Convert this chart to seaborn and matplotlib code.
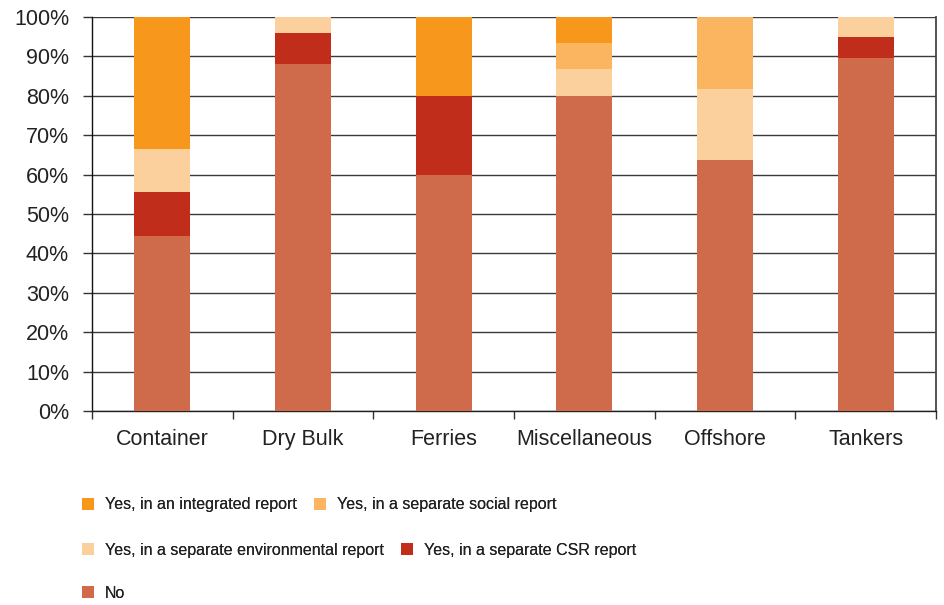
import matplotlib
matplotlib.use("Agg")
import matplotlib.pyplot as plt
from matplotlib.patches import Patch
from matplotlib.ticker import FixedLocator, PercentFormatter
from matplotlib import font_manager
import numpy as np
import pandas as pd
import seaborn as sns

# Share of companies reporting on sustainability, by shipping segment (%)
categories = ["Container", "Dry Bulk", "Ferries", "Miscellaneous", "Offshore", "Tankers"]
no_report = [44.4, 88.0, 60.0, 80.0, 63.6, 89.5]
csr_report = [11.1, 8.0, 20.0, 0.0, 0.0, 5.3]
environmental_report = [11.1, 4.0, 0.0, 6.7, 18.2, 5.2]
social_report = [0.0, 0.0, 0.0, 6.7, 18.2, 0.0]
integrated_report = [33.4, 0.0, 20.0, 6.6, 0.0, 0.0]

series_labels = [
    "No",
    "Yes, in a separate CSR report",
    "Yes, in a separate environmental report",
    "Yes, in a separate social report",
    "Yes, in an integrated report",
]
series_colors = ["#CF6A4A", "#C02D1A", "#FCD09D", "#FBB45F", "#F7981D"]

sns.set_theme(style="white")
names = {f.name for f in font_manager.fontManager.ttflist}
base_font = "Liberation Sans" if "Liberation Sans" in names else "DejaVu Sans"
plt.rcParams["font.family"] = [base_font, "DejaVu Sans"]

df = pd.DataFrame({
    "segment": categories,
    "No": no_report,
    "Yes, in a separate CSR report": csr_report,
    "Yes, in a separate environmental report": environmental_report,
    "Yes, in a separate social report": social_report,
    "Yes, in an integrated report": integrated_report,
})
cumulative = df[series_labels].cumsum(axis=1)

W, H = 944, 605
fig = plt.figure(figsize=(W / 100, H / 100), dpi=100)
ax = fig.add_axes([92 / W, (H - 411) / H, (936 - 92) / W, (411 - 17) / H])

# Stacked bars: draw the tallest cumulative layer first, lower layers on top
for label, color in reversed(list(zip(series_labels, series_colors))):
    sns.barplot(x=df["segment"], y=cumulative[label], color=color, width=0.4,
                saturation=1, edgecolor="none", linewidth=0, ax=ax, zorder=3)

ax.set_xlim(-0.5, len(categories) - 0.5)
ax.set_ylim(0, 100)
ax.set_xlabel("")
ax.set_ylabel("")

ax.yaxis.set_major_locator(FixedLocator(np.arange(0, 101, 10)))
ax.yaxis.set_major_formatter(PercentFormatter(decimals=0))
ax.grid(axis="y", color="#3a3a3a", linewidth=1.0, zorder=1)
ax.set_axisbelow(True)

ax.tick_params(axis="y", which="major", left=True, length=6.5, width=1.0,
               color="#333333", pad=10, labelsize=15.5, labelcolor="#222222")
ax.tick_params(axis="x", which="major", bottom=False, length=0, pad=13,
               labelsize=15.5, labelcolor="#222222")
ax.xaxis.set_minor_locator(FixedLocator(np.arange(-0.5, len(categories), 1.0)))
ax.tick_params(axis="x", which="minor", bottom=True, length=6, width=1.0,
               color="#333333")

ax.spines["top"].set_visible(False)
ax.spines["left"].set_color("#111111")
ax.spines["left"].set_linewidth(1.0)
ax.spines["bottom"].set_color("#222222")
ax.spines["bottom"].set_linewidth(1.0)
ax.spines["right"].set_color("#444444")
ax.spines["right"].set_linewidth(1.3)

# Legend laid out as three flowing rows
legend_rows = [
    (["Yes, in an integrated report", "Yes, in a separate social report"], 505),
    (["Yes, in a separate environmental report", "Yes, in a separate CSR report"], 550),
    (["No"], 593),
]
color_of = dict(zip(series_labels, series_colors))
for row_labels, py in legend_rows:
    leg = fig.legend(
        handles=[Patch(facecolor=color_of[l], edgecolor="none", label=l) for l in row_labels],
        loc="center left", bbox_to_anchor=(82 / W, 1 - py / H), ncol=len(row_labels),
        frameon=False, borderpad=0, borderaxespad=0, columnspacing=1.1,
        handlelength=0.72, handleheight=0.7, handletextpad=0.7,
        fontsize=11.5, labelcolor="#222222",
    )
    fig.add_artist(leg)

fig.savefig("out.png", dpi=100)
